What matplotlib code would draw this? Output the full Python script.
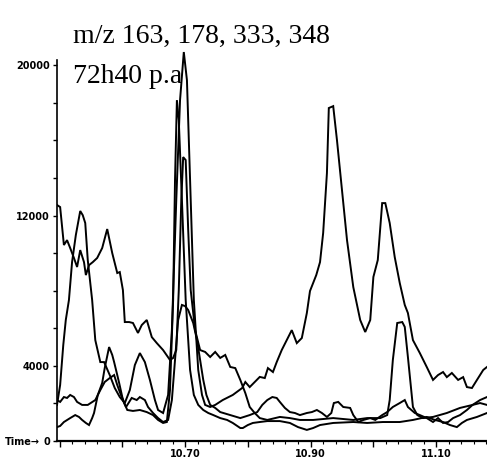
import numpy as np
import matplotlib
matplotlib.use('Agg')
import matplotlib.pyplot as plt
from matplotlib.ticker import FixedLocator, MultipleLocator, FuncFormatter

# ion traces m/z 163, 178, 333, 348 (time in min, abundance)
t1 = [10.496, 10.501, 10.507, 10.512, 10.517, 10.523, 10.528, 10.533, 10.539, 10.542,
      10.547, 10.553, 10.560, 10.568, 10.576, 10.584, 10.592, 10.596, 10.601, 10.604,
      10.611, 10.617, 10.625, 10.631, 10.639, 10.647, 10.655, 10.665, 10.676, 10.681,
      10.686, 10.690, 10.694, 10.697, 10.701, 10.705, 10.709, 10.716, 10.724, 10.732,
      10.740, 10.748, 10.756, 10.764, 10.772, 10.780, 10.788, 10.796, 10.803, 10.811,
      10.819, 10.831, 10.851, 10.867, 10.883, 10.904, 10.936, 10.968, 10.990, 11.011,
      11.022, 11.026, 11.031, 11.038, 11.046, 11.050, 11.055, 11.063, 11.070, 11.079,
      11.095, 11.117, 11.138, 11.158, 11.170, 11.181]
a1 = [12560, 12450, 10430, 10690, 10270, 9740, 9260, 10160, 9520, 8830,
      9360, 9520, 9740, 10270, 11280, 10000, 8940, 8990, 8030, 6330,
      6330, 6280, 5750, 6170, 6440, 5530, 5210, 4840, 4310, 4420,
      4840, 8030, 12820, 15110, 14950, 11230, 8030, 5900, 4840, 4740,
      4470, 4740, 4420, 4580, 3940, 3880, 3250, 2550, 1810, 1490,
      1220, 1120, 1280, 1220, 1120, 1120, 1220, 1120, 1220, 1220,
      1380, 2180, 4310, 6280, 6330, 6070, 4470, 1810, 1380, 1220,
      1280, 1490, 1760, 1920, 2180, 2340]

t2 = [10.496, 10.501, 10.506, 10.510, 10.515, 10.520, 10.526, 10.533, 10.537, 10.541,
      10.545, 10.552, 10.557, 10.565, 10.571, 10.580, 10.588, 10.596, 10.604, 10.612,
      10.620, 10.628, 10.636, 10.644, 10.652, 10.657, 10.665, 10.673, 10.679, 10.686,
      10.692, 10.698, 10.703, 10.708, 10.714, 10.721, 10.727, 10.732, 10.740, 10.748,
      10.760, 10.776, 10.791, 10.796, 10.803, 10.811, 10.819, 10.827, 10.832, 10.840,
      10.846, 10.854, 10.862, 10.870, 10.878, 10.886, 10.894, 10.899, 10.909, 10.915,
      10.920, 10.926, 10.929, 10.936, 10.942, 10.950, 10.958, 10.968, 10.979, 10.987,
      10.995, 11.000, 11.007, 11.014, 11.019, 11.026, 11.034, 11.042, 11.050, 11.055,
      11.063, 11.074, 11.085, 11.095, 11.103, 11.111, 11.117, 11.125, 11.135, 11.143,
      11.149, 11.157, 11.165, 11.175, 11.181]
a2 = [1920, 2980, 5110, 6440, 7500, 9520, 10960, 12240, 12020, 11600,
      9630, 7500, 5370, 4200, 4200, 3510, 2820, 2340, 2020, 2710,
      4040, 4680, 4200, 3250, 2180, 1650, 1490, 2450, 5900, 12820,
      18140, 20700, 19200, 13890, 7500, 3780, 2450, 1920, 1810, 1920,
      2180, 2450, 2820, 3140, 2870, 3140, 3410, 3350, 3880, 3670,
      4200, 4840, 5370, 5900, 5210, 5480, 6810, 7980, 8830, 9520,
      11070, 14260, 17720, 17820, 16010, 13350, 10690, 8190, 6440, 5800,
      6440, 8730, 9630, 12660, 12660, 11600, 9790, 8410, 7240, 6810,
      5370, 4680, 3940, 3250, 3510, 3670, 3400, 3620, 3250, 3400,
      2870, 2820, 3250, 3780, 3940]

t3 = [10.496, 10.501, 10.507, 10.512, 10.517, 10.523, 10.528, 10.536, 10.545, 10.557,
      10.565, 10.572, 10.580, 10.587, 10.592, 10.596, 10.601, 10.606, 10.615, 10.623,
      10.628, 10.636, 10.641, 10.649, 10.657, 10.665, 10.673, 10.679, 10.684, 10.689,
      10.695, 10.700, 10.705, 10.713, 10.719, 10.724, 10.729, 10.734, 10.740, 10.748,
      10.756, 10.772, 10.788, 10.803, 10.815, 10.823, 10.831, 10.839, 10.846, 10.851,
      10.859, 10.867, 10.875, 10.883, 10.894, 10.902, 10.910, 10.918, 10.926, 10.933,
      10.937, 10.944, 10.952, 10.963, 10.968, 10.976, 10.984, 10.995, 11.003, 11.014,
      11.022, 11.031, 11.042, 11.050, 11.055, 11.066, 11.074, 11.085, 11.095, 11.103,
      11.111, 11.119, 11.127, 11.138, 11.149, 11.158, 11.170, 11.181]
a3 = [2180, 2080, 2340, 2290, 2450, 2340, 2080, 1920, 1920, 2180,
      2710, 3140, 3350, 3510, 2980, 2610, 2180, 1810, 2290, 2180,
      2340, 2180, 1810, 1490, 1220, 1010, 1120, 2180, 4310, 6440,
      7240, 7180, 6970, 6280, 5370, 4310, 3250, 2450, 1920, 1760,
      1540, 1380, 1220, 1380, 1540, 1920, 2180, 2340, 2290, 2080,
      1760, 1540, 1490, 1380, 1490, 1540, 1650, 1490, 1280, 1490,
      2020, 2080, 1810, 1760, 1380, 1010, 1120, 1220, 1120, 1380,
      1540, 1810, 2020, 2180, 1810, 1490, 1380, 1220, 1010, 1220,
      960, 1010, 1220, 1380, 1650, 1920, 2020, 1920]

t4 = [10.496, 10.501, 10.507, 10.517, 10.525, 10.531, 10.536, 10.542, 10.547, 10.552,
      10.555, 10.561, 10.568, 10.572, 10.579, 10.584, 10.587, 10.592, 10.595, 10.600,
      10.603, 10.608, 10.617, 10.628, 10.639, 10.649, 10.657, 10.665, 10.671, 10.676,
      10.681, 10.684, 10.687, 10.690, 10.695, 10.701, 10.708, 10.714, 10.721, 10.729,
      10.737, 10.745, 10.756, 10.767, 10.776, 10.788, 10.792, 10.800, 10.808, 10.819,
      10.831, 10.851, 10.867, 10.880, 10.894, 10.904, 10.915, 10.936, 10.968, 10.990,
      11.015, 11.042, 11.063, 11.085, 11.098, 11.111, 11.122, 11.133, 11.141, 11.149,
      11.165, 11.181]
a4 = [740, 800, 1010, 1220, 1380, 1280, 1120, 960, 850, 1220,
      1490, 2450, 3090, 3880, 5000, 4580, 4200, 3510, 3090, 2340,
      2020, 1650, 1600, 1650, 1540, 1380, 1120, 960, 1010, 2710,
      7500, 13890, 18140, 17080, 12820, 7500, 3780, 2450, 1920, 1650,
      1490, 1380, 1220, 1120, 960, 690, 690, 850, 960, 1010,
      1060, 1060, 960, 740, 590, 690, 850, 960, 1010, 960,
      1010, 1010, 1120, 1280, 1120, 1010, 850, 740, 960, 1120,
      1280, 1490]

y_ticks = [0, 4000, 12000, 20000]
x_ticks = [10.70, 10.90, 11.10]

lab_font = ['Liberation Sans Narrow', 'DejaVu Sans']

fig = plt.figure(figsize=(4.87, 4.61), dpi=100)
ax = fig.add_axes([57 / 487, 20 / 461, 430 / 487, 404 / 461])

for t, a in [(t1, a1), (t2, a2), (t3, a3), (t4, a4)]:
    ax.plot(t, a, color='black', lw=1.4, solid_joinstyle='miter')

ax.set_xlim(10.496, 11.181)
ax.set_ylim(0, 21500)

ax.spines['top'].set_visible(False)
ax.spines['right'].set_visible(False)
ax.spines['left'].set_bounds(0, 20300)
ax.spines['left'].set_linewidth(1.2)
ax.spines['bottom'].set_linewidth(1.6)

ax.yaxis.set_major_locator(MultipleLocator(2000))
ax.yaxis.set_major_formatter(FuncFormatter(
    lambda v, p: '%d' % v if int(round(v)) in y_ticks else ''))
ax.xaxis.set_major_locator(FixedLocator([10.5, 10.6, 10.7, 10.8, 10.9, 11.0, 11.1]))
ax.xaxis.set_minor_locator(MultipleLocator(0.02))
ax.xaxis.set_major_formatter(FuncFormatter(
    lambda v, p: '%.2f' % v if any(abs(v - x) < 1e-6 for x in x_ticks) else ''))

ax.tick_params(axis='y', direction='out', length=3, width=1, pad=2)
ax.tick_params(axis='x', which='major', direction='out', length=4, width=1, pad=2)
ax.tick_params(axis='x', which='minor', direction='out', length=2, width=0.8)
for lbl in ax.get_xticklabels() + ax.get_yticklabels():
    lbl.set_family(lab_font)
    lbl.set_fontweight('bold')
    lbl.set_fontsize(7)

fig.text(5 / 487, 1 - 442 / 461, 'Time\u2192', family=lab_font, fontsize=7,
         fontweight='bold', va='center', ha='left')

fig.text(73 / 487, 1 - 43 / 461, 'm/z 163, 178, 333, 348',
         family=['Liberation Serif', 'DejaVu Serif'], fontsize=20, va='baseline')
fig.text(73 / 487, 1 - 83 / 461, '72h40 p.a',
         family=['Liberation Serif', 'DejaVu Serif'], fontsize=20, va='baseline')

fig.savefig('out.png', dpi=100)
